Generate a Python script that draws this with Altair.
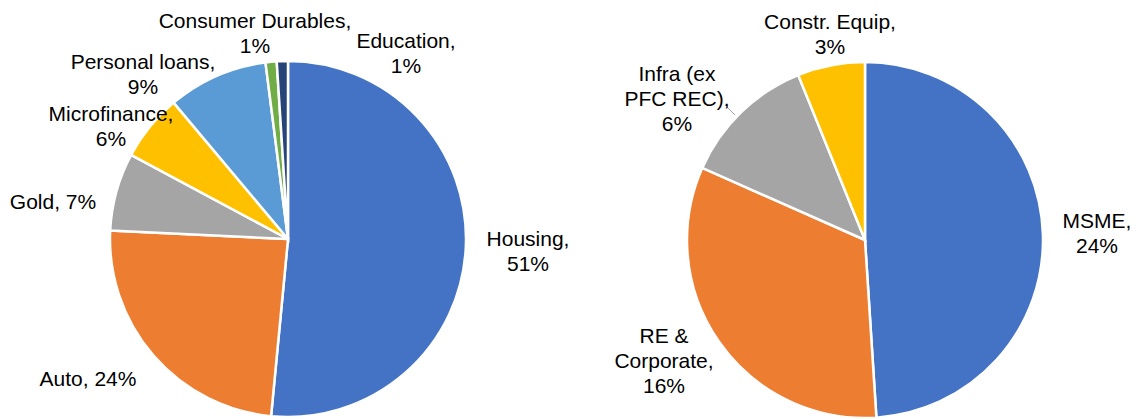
import altair as alt
import pandas as pd

# Left pie: retail loan mix
retail_cats = ["Housing", "Auto", "Gold", "Microfinance", "Personal loans",
               "Consumer Durables", "Education"]
retail_vals = [51, 24, 7, 6, 9, 1, 1]
retail_labels = ["Housing,\n51%", "Auto, 24%", "Gold, 7%", "Microfinance,\n6%",
                 "Personal loans,\n9%", "Consumer Durables,\n1%", "Education,\n1%"]
retail_colors = ["#4472C4", "#ED7D31", "#A5A5A5", "#FFC000", "#5B9BD5", "#70AD47", "#264478"]

# Right pie: wholesale loan mix
whole_cats = ["MSME", "RE & Corporate", "Infra (ex PFC REC)", "Constr. Equip"]
whole_vals = [24, 16, 6, 3]
whole_labels = ["MSME,\n24%", "RE &\nCorporate,\n16%", "Infra (ex\nPFC REC),\n6%",
                "Constr. Equip,\n3%"]
whole_colors = ["#4472C4", "#ED7D31", "#A5A5A5", "#FFC000"]

# Layout (label anchor points of first text line, in pixels, chart coordinates)
retail_label_x = [520, 80, 45, 103, 135, 247, 398]
retail_label_y = [232, 372, 195, 107, 55, 14, 34]
whole_label_x = [1089, 656, 669, 822]
whole_label_y = [214, 329, 67, 15]

LEFT_C = (280, 231)
RIGHT_C = (857, 232)
R = 178

left_df = pd.DataFrame({"cat": retail_cats, "val": retail_vals,
                        "ord": list(range(len(retail_cats)))})
right_df = pd.DataFrame({"cat": whole_cats, "val": whole_vals,
                         "ord": list(range(len(whole_cats)))})
lab_df = pd.DataFrame({"txt": retail_labels + whole_labels,
                       "lx": retail_label_x + whole_label_x,
                       "ly": retail_label_y + whole_label_y})

left_pie = alt.Chart(left_df).mark_arc(outerRadius=R, stroke="white", strokeWidth=2.5).encode(
    theta=alt.Theta("val:Q", stack=True),
    order=alt.Order("ord:Q"),
    color=alt.Color("cat:N", scale=alt.Scale(domain=retail_cats, range=retail_colors), legend=None),
    x=alt.value(LEFT_C[0]), y=alt.value(LEFT_C[1]),
)

right_pie = alt.Chart(right_df).mark_arc(outerRadius=R, stroke="white", strokeWidth=2.5).encode(
    theta=alt.Theta("val:Q", stack=True),
    order=alt.Order("ord:Q"),
    color=alt.Color("cat:N", scale=alt.Scale(domain=whole_cats, range=whole_colors), legend=None),
    x=alt.value(RIGHT_C[0]), y=alt.value(RIGHT_C[1]),
)

labels = alt.Chart(lab_df).mark_text(
    align="center", baseline="middle", lineBreak="\n", lineHeight=25,
    fontSize=21, font="Liberation Sans", color="#000000"
).encode(
    x=alt.X("lx:Q", scale=None),
    y=alt.Y("ly:Q", scale=None),
    text="txt:N",
)

leader = alt.Chart(pd.DataFrame({"a": [0]})).mark_rule(color="#A5A5A5", strokeWidth=1).encode(
    x=alt.value(717), x2=alt.value(727), y=alt.value(97), y2=alt.value(107)
)

chart = alt.layer(left_pie, right_pie, leader, labels).resolve_scale(
    theta="independent", color="independent"
).properties(
    width=1123, height=411, autosize=alt.AutoSizeParams(type="none"), padding=0
).configure_view(stroke=None)

chart.save("out.html", embed_options={"renderer": "svg", "actions": False})
